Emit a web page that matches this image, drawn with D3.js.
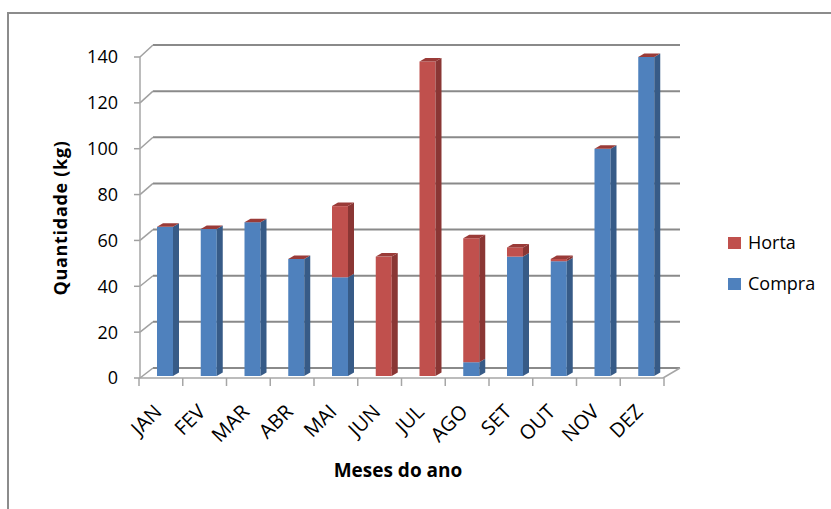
<!DOCTYPE html>
<html><head><meta charset="utf-8">
<script src="https://cdn.jsdelivr.net/npm/d3@7"></script>
<style>html,body{margin:0;padding:0;background:#fff;} svg{display:block;}</style>
</head><body>
<svg id="chart" width="831" height="509"></svg>
<script>
// Monthly quantities (kg), stacked: Compra at the bottom, Horta on top
const months = ["JAN","FEV","MAR","ABR","MAI","JUN","JUL","AGO","SET","OUT","NOV","DEZ"];
const compra = [65, 64, 67, 51, 43, 0, 0, 6, 52, 50, 99, 139];
const horta  = [0, 0, 0, 0, 31, 52, 137, 54, 4, 1, 0, 0];
const yTicks = [0, 20, 40, 60, 80, 100, 120, 140];
const legendItems = ["Horta", "Compra"];

const svg = d3.select("#chart");
const font = "'Open Sans', 'Noto Sans', sans-serif";

const colors = {
  Compra: { front: "#4F81BD", side: "#375B87", top: "#6A95C8" },
  Horta:  { front: "#C0504D", side: "#8A3634", top: "#9A3B38" }
};

// Outer chart frame
svg.append("rect").attr("x", 8).attr("y", 13).attr("width", 840).attr("height", 520)
  .attr("fill", "none").attr("stroke", "#8C8C8C").attr("stroke-width", 2);

// Scales: front plane, back wall and bar plane (3D perspective)
const x = d3.scaleBand().domain(months).range([139, 664]).paddingInner(0).paddingOuter(0);
const yFront = d3.scaleLinear().domain([0, 140]).range([378, 57]);
const yBack  = d3.scaleLinear().domain([0, 140]).range([368, 45]);
const yBar   = d3.scaleLinear().domain([0, 140]).range([376, 54.6]);
const axisX = 140, wallX = 153, wallRight = 680, floorRight = 663;

// Back wall gridlines + slanted side-wall connectors
const g = svg.append("g");
yTicks.forEach(v => {
  g.append("line").attr("x1", wallX).attr("x2", wallRight)
    .attr("y1", yBack(v)).attr("y2", yBack(v))
    .attr("stroke", "#8A8A8A").attr("stroke-width", 2);
  g.append("line").attr("x1", axisX).attr("x2", wallX)
    .attr("y1", yFront(v)).attr("y2", yBack(v))
    .attr("stroke", "#A0A0A0").attr("stroke-width", 1.5);
  g.append("line").attr("x1", axisX - 6).attr("x2", axisX)
    .attr("y1", yFront(v)).attr("y2", yFront(v))
    .attr("stroke", "#A0A0A0").attr("stroke-width", 1.5);
});

// Floor edges
g.append("line").attr("x1", axisX).attr("x2", floorRight)
  .attr("y1", yFront(0)).attr("y2", yFront(0))
  .attr("stroke", "#A6A6A6").attr("stroke-width", 1.5);
g.append("line").attr("x1", floorRight).attr("x2", wallRight)
  .attr("y1", yFront(0)).attr("y2", yBack(0))
  .attr("stroke", "#A6A6A6").attr("stroke-width", 1.5);

// Vertical value axis
g.append("line").attr("x1", axisX).attr("x2", axisX)
  .attr("y1", yFront(140)).attr("y2", yFront(0))
  .attr("stroke", "#A6A6A6").attr("stroke-width", 1.5);

// Category tick marks at band boundaries
const boundaries = months.map(m => x(m)).concat([x.range()[1]]);
boundaries.forEach(bx => {
  g.append("line").attr("x1", bx).attr("x2", bx)
    .attr("y1", yFront(0)).attr("y2", yFront(0) + 8)
    .attr("stroke", "#A6A6A6").attr("stroke-width", 1.5);
});

// Y tick labels
svg.append("g").selectAll("text").data(yTicks).join("text")
  .attr("x", 118).attr("y", d => yFront(d)).attr("dy", "0.36em")
  .attr("text-anchor", "end").attr("font-family", font).attr("font-size", 18)
  .attr("fill", "#000").text(d => d);

// 3D stacked columns
const barW = 16, dX = 6, dY = -3.5, barOffset = 18;
const bars = svg.append("g");
months.forEach((m, i) => {
  const x0 = x(m) + barOffset;
  const segs = [
    { name: "Compra", lo: 0, hi: compra[i] },
    { name: "Horta", lo: compra[i], hi: compra[i] + horta[i] }
  ];
  segs.forEach((s, k) => {
    const c = colors[s.name];
    const yb = yBar(s.lo), yt = yBar(s.hi);
    if (s.hi > s.lo) {
      bars.append("rect").attr("x", x0).attr("y", yt).attr("width", barW).attr("height", yb - yt)
        .attr("fill", c.front);
      bars.append("path")
        .attr("d", `M${x0 + barW},${yb}L${x0 + barW},${yt}L${x0 + barW + dX},${yt + dY}L${x0 + barW + dX},${yb + dY}Z`)
        .attr("fill", c.side);
    }
    // top face belongs to the uppermost series
    if (k === segs.length - 1) {
      const tc = colors.Horta.top;
      bars.append("path")
        .attr("d", `M${x0},${yt}L${x0 + barW},${yt}L${x0 + barW + dX},${yt + dY}L${x0 + dX},${yt + dY}Z`)
        .attr("fill", tc);
    }
  });
});

// Category labels, rotated
svg.append("g").selectAll("text").data(months).join("text")
  .attr("transform", d => `translate(${x(d) + x.bandwidth() / 2 + 2},${413}) rotate(-45)`)
  .attr("text-anchor", "end").attr("font-family", font).attr("font-size", 20)
  .attr("fill", "#000").text(d => d);

// Axis titles
svg.append("text").attr("transform", "translate(61,218) rotate(-90)")
  .attr("text-anchor", "middle").attr("dy", "0.35em")
  .attr("font-family", font).attr("font-size", 18).attr("font-weight", "bold")
  .attr("letter-spacing", 0.7).text("Quantidade (kg)");
svg.append("text").attr("x", 398).attr("y", 477)
  .attr("text-anchor", "middle")
  .attr("font-family", font).attr("font-size", 19).attr("font-weight", "bold")
  .text("Meses do ano");

// Legend
const lg = svg.append("g");
legendItems.forEach((name, i) => {
  const ly = 237 + i * 41;
  lg.append("rect").attr("x", 728).attr("y", ly).attr("width", 13).attr("height", 12)
    .attr("fill", colors[name].front);
  lg.append("text").attr("x", 748).attr("y", ly + 12)
    .attr("font-family", font).attr("font-size", 18).attr("fill", "#000").text(name);
});
</script>
</body></html>
